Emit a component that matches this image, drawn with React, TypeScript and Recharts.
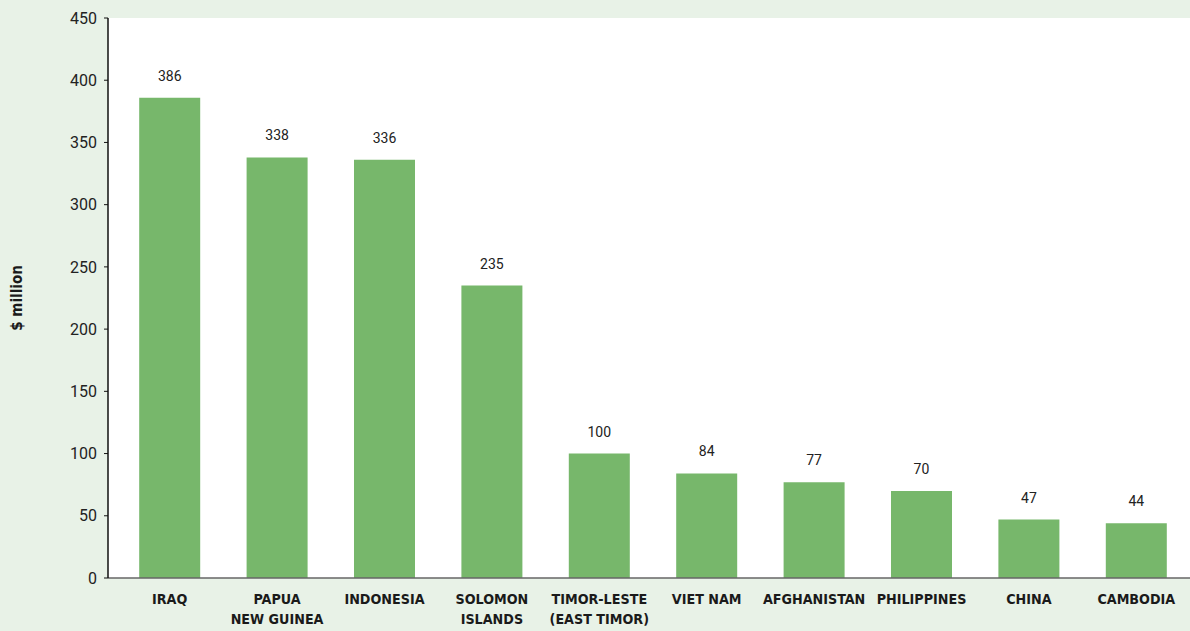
import React from 'react';
import { BarChart, Bar, XAxis, YAxis, CartesianGrid, LabelList } from 'recharts';

// country names, "\n" splits the tick label across two lines
const countries = [
  'IRAQ',
  'PAPUA\nNEW GUINEA',
  'INDONESIA',
  'SOLOMON\nISLANDS',
  'TIMOR-LESTE\n(EAST TIMOR)',
  'VIET NAM',
  'AFGHANISTAN',
  'PHILIPPINES',
  'CHINA',
  'CAMBODIA',
];

const aid = [386, 338, 336, 235, 100, 84, 77, 70, 47, 44];

const yTicks = [0, 50, 100, 150, 200, 250, 300, 350, 400, 450];

const chartData = countries.map((name, i) => ({ name, value: aid[i] }));

const narrow = "'DejaVu Sans Condensed', 'Liberation Sans Narrow', 'Liberation Sans', sans-serif";

const CountryTick = (props: any) => {
  const { x, y, payload } = props;
  const lines: string[] = String(payload.value).split('\n');
  return (
    <text
      x={x}
      y={y}
      textAnchor="middle"
      fill="#1a1a1a"
      fontFamily={narrow}
      fontWeight="bold"
      fontSize={14.2}
      style={{ fontStretch: 'condensed' }}
    >
      {lines.map((line, i) => (
        <tspan key={i} x={x} dy={i === 0 ? 18 : 20}>
          {line}
        </tspan>
      ))}
    </text>
  );
};

const App: React.FC = () => {
  return (
    <div style={{ width: 1190, height: 631, background: '#e8f2e7' }}>
      <style>{'body{margin:0}'}</style>
      <BarChart
        width={1190}
        height={631}
        data={chartData}
        margin={{ top: 18, right: 0, left: 0, bottom: 0 }}
        barCategoryGap="21.6%"
      >
        <CartesianGrid horizontal={false} vertical={false} fill="#ffffff" />
        <XAxis
          dataKey="name"
          interval={0}
          height={53}
          padding={{ left: 8, right: 0 }}
          axisLine={{ stroke: '#666666', strokeWidth: 1.5 }}
          tickLine={false}
          tick={<CountryTick />}
        />
        <YAxis
          width={108}
          domain={[0, 450]}
          ticks={yTicks}
          interval={0}
          tickSize={4}
          tickMargin={7}
          axisLine={{ stroke: '#111111', strokeWidth: 1.5 }}
          tickLine={{ stroke: '#111111' }}
          tick={{ fill: '#222222', fontSize: 16, fontFamily: 'Roboto, sans-serif' }}
          label={{
            value: '$ million',
            angle: -90,
            position: 'insideLeft',
            offset: 17,
            style: {
              fill: '#1a1a1a',
              fontSize: 15,
              fontWeight: 'bold',
              fontFamily: narrow,
              fontStretch: 'condensed',
              textAnchor: 'middle',
            },
          }}
        />
        <Bar dataKey="value" fill="#77b76b" isAnimationActive={false}>
          <LabelList
            dataKey="value"
            position="top"
            offset={17}
            style={{ fill: '#222222', fontSize: 14, fontFamily: 'Roboto, sans-serif' }}
          />
        </Bar>
      </BarChart>
    </div>
  );
};

export default App;
